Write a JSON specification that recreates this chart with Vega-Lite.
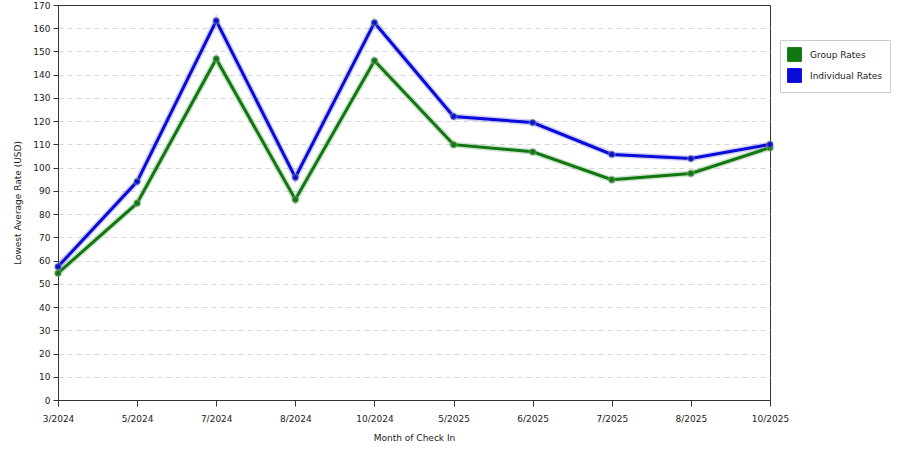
{
  "$schema": "https://vega.github.io/schema/vega-lite/v6.json",
  "width": 712,
  "height": 395,
  "autosize": {"type": "none"},
  "padding": {"left": 58, "top": 5, "right": 130, "bottom": 50},
  "background": "white",
  "config": {
    "view": {"stroke": "#333333", "strokeWidth": 1},
    "font": "DejaVu Sans",
    "axis": {
      "labelFont": "DejaVu Sans",
      "titleFont": "DejaVu Sans",
      "labelFontSize": 9,
      "titleFontSize": 9,
      "titleFontWeight": "normal",
      "labelColor": "#222222",
      "titleColor": "#222222",
      "domainColor": "#333333",
      "tickColor": "#333333"
    }
  },
  "data": {
    "values": [
      {"month": "3/2024", "series": "Group Rates", "rate": 54.6},
      {"month": "5/2024", "series": "Group Rates", "rate": 84.7},
      {"month": "7/2024", "series": "Group Rates", "rate": 146.8},
      {"month": "8/2024", "series": "Group Rates", "rate": 86.3},
      {"month": "10/2024", "series": "Group Rates", "rate": 146.0},
      {"month": "5/2025", "series": "Group Rates", "rate": 109.9},
      {"month": "6/2025", "series": "Group Rates", "rate": 106.8},
      {"month": "7/2025", "series": "Group Rates", "rate": 94.8},
      {"month": "8/2025", "series": "Group Rates", "rate": 97.5},
      {"month": "10/2025", "series": "Group Rates", "rate": 108.6},
      {"month": "3/2024", "series": "Individual Rates", "rate": 57.4},
      {"month": "5/2024", "series": "Individual Rates", "rate": 94.0},
      {"month": "7/2024", "series": "Individual Rates", "rate": 163.2},
      {"month": "8/2024", "series": "Individual Rates", "rate": 95.8},
      {"month": "10/2024", "series": "Individual Rates", "rate": 162.4},
      {"month": "5/2025", "series": "Individual Rates", "rate": 122.0},
      {"month": "6/2025", "series": "Individual Rates", "rate": 119.4},
      {"month": "7/2025", "series": "Individual Rates", "rate": 105.7},
      {"month": "8/2025", "series": "Individual Rates", "rate": 103.9},
      {"month": "10/2025", "series": "Individual Rates", "rate": 110.0}
    ]
  },
  "encoding": {
    "x": {
      "field": "month",
      "type": "ordinal",
      "sort": ["3/2024", "5/2024", "7/2024", "8/2024", "10/2024", "5/2025", "6/2025", "7/2025", "8/2025", "10/2025"],
      "scale": {"type": "point", "padding": 0},
      "axis": {
        "title": "Month of Check In",
        "labelAngle": 0,
        "tickSize": 6,
        "labelPadding": 8,
        "titlePadding": 10,
        "grid": false
      }
    },
    "y": {
      "field": "rate",
      "type": "quantitative",
      "scale": {"domain": [0, 170], "nice": false},
      "axis": {
        "title": "Lowest Average Rate (USD)",
        "values": [0,10,20,30,40,50,60,70,80,90,100,110,120,130,140,150,160,170],
        "tickSize": 5,
        "labelPadding": 3,
        "titlePadding": 10,
        "grid": true,
        "gridColor": {"condition": {"test": "datum.value >= 170", "value": "#333333"}, "value": "#d8d8d8"},
        "gridDash": {"condition": {"test": "datum.value >= 170", "value": []}, "value": [5, 4]}
      }
    },
    "color": {
      "field": "series",
      "type": "nominal",
      "scale": {"domain": ["Group Rates", "Individual Rates"], "range": ["#117711", "#0a0ad8"]},
      "legend": {
        "title": null,
        "orient": "none",
        "legendX": 722,
        "legendY": 35,
        "symbolType": "square",
        "symbolSize": 190,
        "symbolStrokeColor": "#333333",
        "symbolStrokeWidth": 1,
        "symbolOpacity": 1,
        "labelFontSize": 9,
        "labelFont": "DejaVu Sans",
        "labelColor": "#222222",
        "rowPadding": 2,
        "strokeColor": "#cccccc",
        "padding": 7,
        "fillColor": "white",
        "labelOffset": 8
      }
    }
  },
  "layer": [
    {"mark": {"type": "line", "strokeWidth": 6, "opacity": 0.2}},
    {"mark": {"type": "line", "strokeWidth": 3}},
    {"mark": {"type": "point", "filled": true, "size": 40, "opacity": 1, "stroke": "#88aa88", "strokeOpacity": 0.4, "strokeWidth": 2}}
  ]
}
